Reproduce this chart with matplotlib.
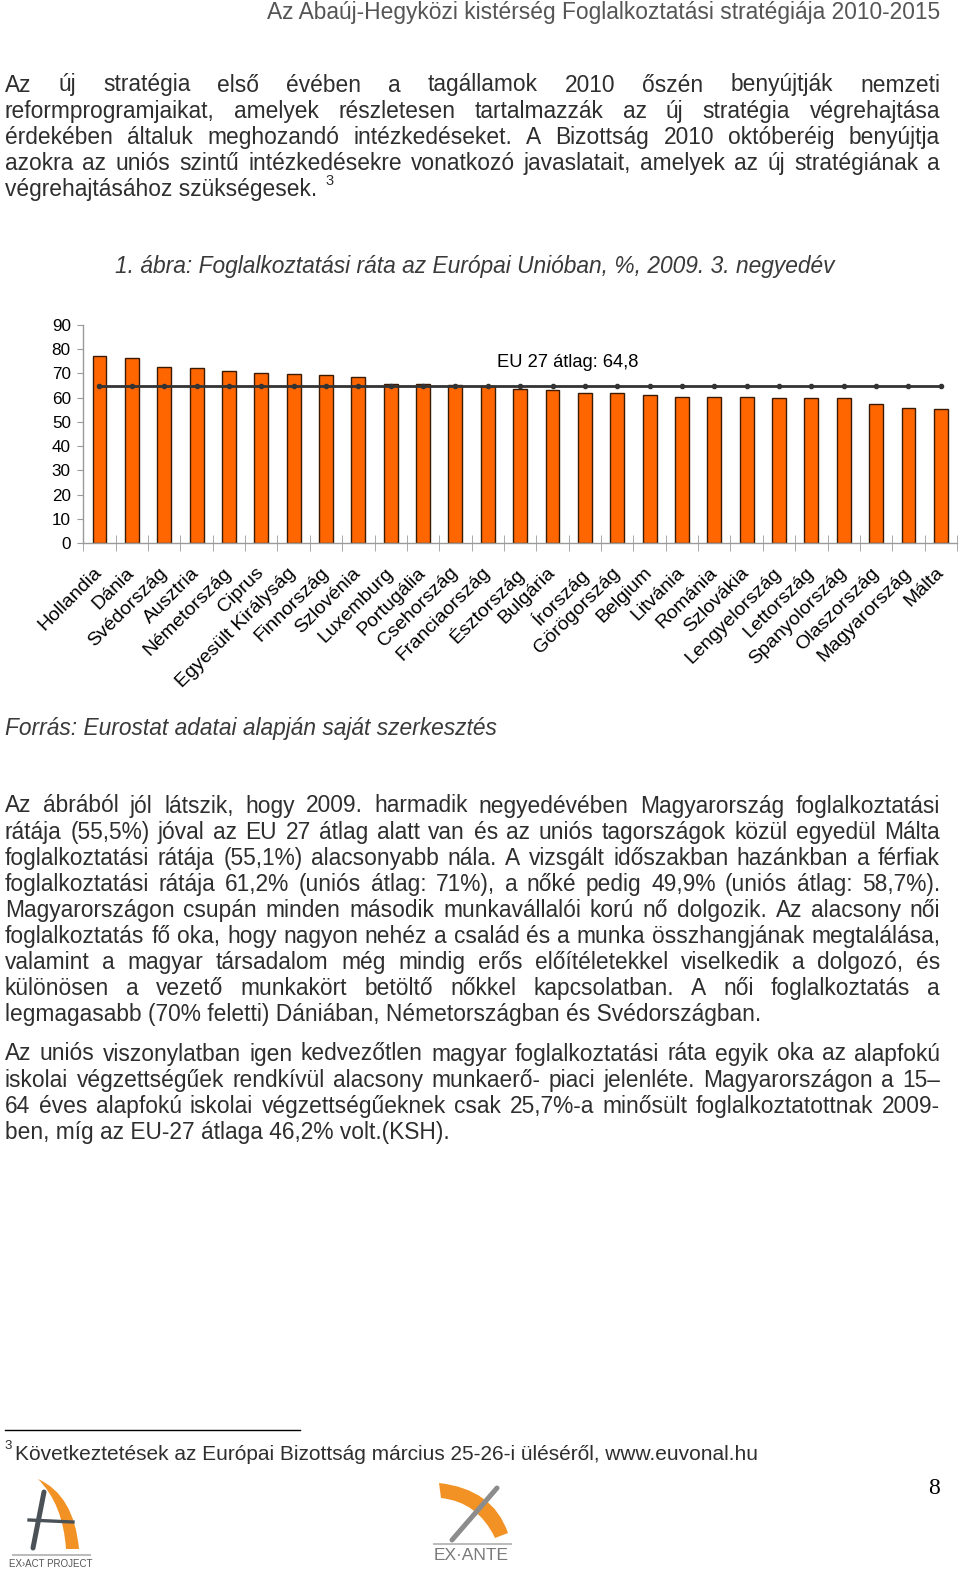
import matplotlib
matplotlib.use('Agg')
import matplotlib.pyplot as plt
import numpy as np
from matplotlib.path import Path
from matplotlib.transforms import ScaledTranslation
import matplotlib.patches as mpatches

plt.rcParams['font.family'] = ['Liberation Sans', 'DejaVu Sans']

# ---------------- data ----------------
countries = ['Hollandia', 'Dánia', 'Svédország', 'Ausztria', 'Németország', 'Ciprus',
             'Egyesült Királyság', 'Finnország', 'Szlovénia', 'Luxemburg', 'Portugália',
             'Csehország', 'Franciaország', 'Észtország', 'Bulgária', 'Írország',
             'Görögország', 'Belgium', 'Litvánia', 'Románia', 'Szlovákia', 'Lengyelország',
             'Lettország', 'Spanyolország', 'Olaszország', 'Magyarország', 'Málta']
rates = [77.0, 76.4, 72.6, 72.0, 70.9, 70.0, 69.9, 69.4, 68.3, 65.7, 65.7, 65.3, 64.9,
         63.5, 63.0, 61.9, 61.9, 61.2, 60.2, 60.2, 60.2, 59.7, 59.7, 59.7, 57.5, 55.5, 55.1]
eu_avg = 64.8
eu_label = 'EU 27 átlag: 64,8'
y_ticks = [0, 10, 20, 30, 40, 50, 60, 70, 80, 90]

header = 'Az Abaúj-Hegyközi kistérség Foglalkoztatási stratégiája 2010-2015'
para1 = ['Az új stratégia első évében a tagállamok 2010 őszén benyújtják nemzeti',
         'reformprogramjaikat, amelyek részletesen tartalmazzák az új stratégia végrehajtása',
         'érdekében általuk meghozandó intézkedéseket. A Bizottság 2010 októberéig benyújtja',
         'azokra az uniós szintű intézkedésekre vonatkozó javaslatait, amelyek az új stratégiának a',
         'végrehajtásához szükségesek.']
caption = '1. ábra: Foglalkoztatási ráta az Európai Unióban, %, 2009. 3. negyedév'
source = 'Forrás: Eurostat adatai alapján saját szerkesztés'
para2 = ['Az ábrából jól látszik, hogy 2009. harmadik negyedévében Magyarország foglalkoztatási',
         'rátája (55,5%) jóval az EU 27 átlag alatt van és az uniós tagországok közül egyedül Málta',
         'foglalkoztatási rátája (55,1%) alacsonyabb nála. A vizsgált időszakban hazánkban a férfiak',
         'foglalkoztatási rátája 61,2% (uniós átlag: 71%), a nőké pedig 49,9% (uniós átlag: 58,7%).',
         'Magyarországon csupán minden második munkavállalói korú nő dolgozik. Az alacsony női',
         'foglalkoztatás fő oka, hogy nagyon nehéz a család és a munka összhangjának megtalálása,',
         'valamint a magyar társadalom még mindig erős előítéletekkel viselkedik a dolgozó, és',
         'különösen a vezető munkakört betöltő nőkkel kapcsolatban. A női foglalkoztatás a',
         'legmagasabb (70% feletti) Dániában, Németországban és Svédországban.']
para3 = ['Az uniós viszonylatban igen kedvezőtlen magyar foglalkoztatási ráta egyik oka az alapfokú',
         'iskolai végzettségűek rendkívül alacsony munkaerő- piaci jelenléte. Magyarországon a 15–',
         '64 éves alapfokú iskolai végzettségűeknek csak 25,7%-a minősült foglalkoztatottnak 2009-',
         'ben, míg az EU-27 átlaga 46,2% volt.(KSH).']
footnote = 'Következtetések az Európai Bizottság március 25-26-i üléséről, www.euvonal.hu'

# ---------------- page ----------------
W, H = 960, 1574
fig = plt.figure(figsize=(W / 100, H / 100), dpi=100)
page = fig.add_axes([0, 0, 1, 1])
page.set_xlim(0, W)
page.set_ylim(H, 0)
page.axis('off')
renderer = fig.canvas.get_renderer()

TXT = '#2e2e2e'
BODY = 16.4
X0, X1 = 5, 940


def put_line(s, y, justify, size=BODY, color=TXT):
    if not justify:
        return page.text(X0, y, s, fontsize=size, color=color, va='center', ha='left')
    words = s.split(' ')
    objs = [page.text(0, y, w, fontsize=size, color=color, va='center', ha='left') for w in words]
    widths = [o.get_window_extent(renderer).width for o in objs]
    gap = (X1 - X0 - sum(widths)) / (len(words) - 1)
    x = X0
    for o, w in zip(objs, widths):
        o.set_x(x)
        x += w + gap
    return objs[-1]


def paragraph(lines, y0, dy):
    last = None
    for i, s in enumerate(lines):
        last = put_line(s, y0 + i * dy, i < len(lines) - 1)
    return last


page.text(940, 12, header, fontsize=16.4, color='#555555', ha='right', va='center')

last = paragraph(para1, 85, 26.1)
bb = last.get_window_extent(renderer)
page.text(bb.x1 + 8, 181, '3', fontsize=10.5, color=TXT, ha='left', va='center')

page.text(115, 266, caption, fontsize=16.4, style='italic', color='#3a3a3a', ha='left', va='center')
page.text(X0, 729, source, fontsize=16.4, style='italic', color='#3a3a3a', ha='left', va='center')

paragraph(para2, 806, 26.1)
paragraph(para3, 1054, 26.1)

page.plot([5, 300], [1430, 1430], color='black', lw=1)
page.text(4, 1446, '3', fontsize=9.5, color=TXT, ha='left', va='center')
page.text(15, 1454, footnote, fontsize=15.0, color=TXT, ha='left', va='center')
page.text(934, 1488, '8', fontsize=17, family='Liberation Serif', color='black', ha='center', va='center')

# logos (simple drawn shapes)
ORANGE = '#F39224'
# EX-ACT PROJECT
page.plot([44, 33], [1492, 1548], color='#4a5257', lw=3.6, solid_capstyle='round')
verts = [(38, 1479), (74, 1495), (79, 1549), (66, 1549), (63, 1504), (38, 1479)]
codes = [Path.MOVETO, Path.CURVE3, Path.CURVE3, Path.LINETO, Path.CURVE3, Path.CURVE3]
page.add_patch(mpatches.PathPatch(Path(verts, codes), facecolor=ORANGE, edgecolor='none'))
page.plot([29, 73], [1520, 1522], color='#4a5257', lw=2.4)
page.plot([13, 90], [1555, 1555], color='#bbbbbb', lw=1.4)
page.text(51, 1564, 'EX›ACT PROJECT', fontsize=7, color='#555555', ha='center', va='center')
# EX-ANTE
page.plot([497, 452], [1488, 1540], color='#8c8c8c', lw=3.6, solid_capstyle='round')
verts = [(439, 1483), (493, 1489), (508, 1533), (495, 1538), (478, 1502), (441, 1498)]
codes = [Path.MOVETO, Path.CURVE3, Path.CURVE3, Path.LINETO, Path.CURVE3, Path.CURVE3]
page.add_patch(mpatches.PathPatch(Path(verts, codes), facecolor=ORANGE, edgecolor='none'))
page.plot([434, 511], [1544, 1544], color='#bbbbbb', lw=1.4)
page.text(471, 1556, 'EX·ANTE', fontsize=12.5, color='#7a7a7a', ha='center', va='center')

# ---------------- chart ----------------
ax_l, ax_r, ax_t, ax_b = 83.3, 957.0, 324.7, 543.3
ax = fig.add_axes([ax_l / W, 1 - ax_b / H, (ax_r - ax_l) / W, (ax_b - ax_t) / H])
ax.patch.set_alpha(0)
x = np.arange(len(countries))
ax.bar(x, rates, width=0.43, color='#FF6600', edgecolor='#3a1a00', linewidth=1.0, zorder=2)
ax.plot(x, [eu_avg] * len(x), color='#333333', lw=2.0, marker='o', ms=3, zorder=3)
ax.text(12.28, 74.6, eu_label, fontsize=13.2, color='black', ha='left', va='center')
ax.set_xlim(-0.5, len(x) - 0.5)
ax.set_ylim(0, 90)
for s in ['top', 'right']:
    ax.spines[s].set_visible(False)
for s in ['left', 'bottom']:
    ax.spines[s].set_color('#9a9a9a')
    ax.spines[s].set_linewidth(1.0)
ax.set_yticks(y_ticks)
ax.tick_params(axis='y', direction='out', length=4, color='#9a9a9a', labelsize=12.3, pad=5)
ax.set_xticks([])
ax.set_xticks(np.arange(-0.5, len(x), 1.0), minor=True)
ax.tick_params(axis='x', which='minor', direction='inout', length=11, color='#9a9a9a')
lab_tr = ax.get_xaxis_transform() + ScaledTranslation(-0.06, -0.21, fig.dpi_scale_trans)
for xi, name in zip(x, countries):
    ax.text(xi, 0, name, transform=lab_tr, rotation=45, ha='right', va='top',
            rotation_mode='anchor', fontsize=14.0, color='black')

fig.savefig('out.png', dpi=100)
